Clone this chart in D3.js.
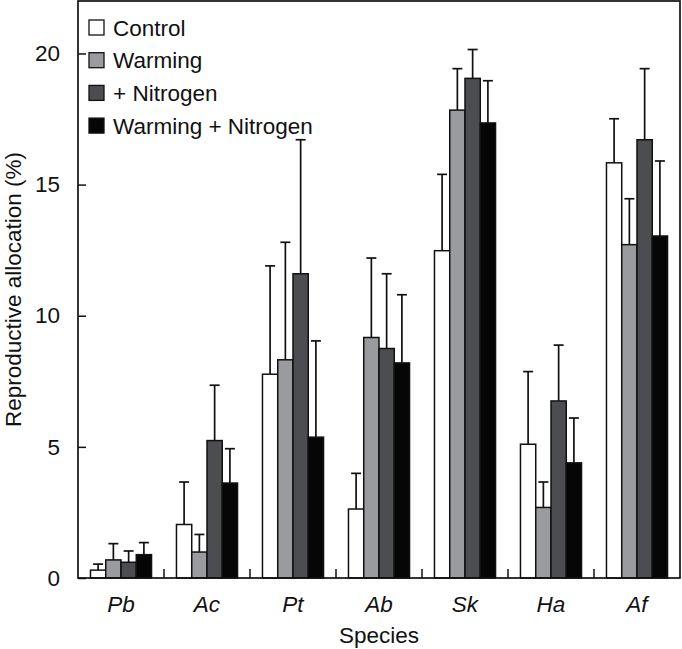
<!DOCTYPE html>
<html>
<head>
<meta charset="utf-8">
<script src="https://cdn.jsdelivr.net/npm/d3@7"></script>
<style>
body { margin: 0; background: #fff; }
text { font-family: "Liberation Sans", Arial, Helvetica, sans-serif; }
</style>
</head>
<body>
<div id="bar_chart"></div>
<script>
//data
var species = ["Pb", "Ac", "Pt", "Ab", "Sk", "Ha", "Af"];
var treatments = ["Control", "Warming", "+ Nitrogen", "Warming + Nitrogen"];
var colors = ["#ffffff", "#9a9b9e", "#4b4d51", "#060606"];
var yTicks = [0, 5, 10, 15, 20];

var control = [0.3, 2.04, 7.77, 2.63, 12.48, 5.1, 15.83];
var controlSE = [0.23, 1.62, 4.13, 1.36, 2.91, 2.77, 1.68];
var warming = [0.69, 0.99, 8.32, 9.17, 17.84, 2.69, 12.71];
var warmingSE = [0.62, 0.67, 4.48, 3.03, 1.58, 0.97, 1.75];
var nitrogen = [0.6, 5.24, 11.6, 8.75, 19.05, 6.75, 16.71];
var nitrogenSE = [0.43, 2.11, 5.11, 2.85, 1.1, 2.13, 2.71];
var warmNitro = [0.89, 3.62, 5.37, 8.2, 17.35, 4.39, 13.04];
var warmNitroSE = [0.46, 1.31, 3.67, 2.6, 1.61, 1.71, 2.86];

var means = [control, warming, nitrogen, warmNitro];
var errors = [controlSE, warmingSE, nitrogenSE, warmNitroSE];

//flat table of bars
var data = [];
species.forEach(function(s, i) {
  treatments.forEach(function(t, j) {
    data.push({species: s, treatment: t, value: means[j][i], se: errors[j][i], color: colors[j]});
  });
});

//setting dimensions and margins
var margin = {top: 1, right: 2, bottom: 71, left: 78},
width = 682 - margin.left - margin.right,
height = 649 - margin.top - margin.bottom;

var fs = 22.5;

var svg = d3.select("#bar_chart")
.append("svg")
.attr("width", width + margin.left + margin.right)
.attr("height", height + margin.top + margin.bottom)
.append("g")
.attr("transform", "translate(" + margin.left + "," + margin.top + ")");

//scales
var xScale = d3.scaleBand().domain(species).range([0, width]);
var bw = xScale.bandwidth();
var xInner = d3.scaleBand().domain(treatments).range([bw * 0.145, bw * 0.855]);
var yScale = d3.scaleLinear().domain([0, 22]).range([height, 0]);

//y axis, ticks pointing inward
var yAxis = svg.append("g")
  .call(d3.axisLeft(yScale).tickValues(yTicks).tickSize(-8).tickPadding(18).tickFormat(d3.format("d")));
yAxis.select(".domain").remove();
yAxis.selectAll(".tick line").attr("stroke", "#111").attr("stroke-width", 1.5);
yAxis.selectAll(".tick text").attr("font-size", fs).attr("fill", "#111");

//x axis labels
svg.append("g").selectAll(".xlab")
  .data(species)
  .enter().append("text")
  .attr("x", function(d) { return xScale(d) + bw / 2; })
  .attr("y", height + 34)
  .attr("text-anchor", "middle")
  .attr("font-size", fs)
  .attr("font-style", "italic")
  .attr("fill", "#111")
  .text(function(d) { return d; });

//small separator ticks between species
svg.append("g").selectAll(".sep")
  .data(species.slice(1))
  .enter().append("line")
  .attr("x1", function(d) { return xScale(d); })
  .attr("x2", function(d) { return xScale(d); })
  .attr("y1", height)
  .attr("y2", height - 9)
  .attr("stroke", "#111")
  .attr("stroke-width", 1.5);

//error bars (upper only)
var err = svg.append("g").selectAll(".err")
  .data(data)
  .enter().append("g")
  .attr("stroke", "#111")
  .attr("stroke-width", 1.7);
err.append("line")
  .attr("x1", function(d) { return xScale(d.species) + xInner(d.treatment) + xInner.bandwidth() / 2; })
  .attr("x2", function(d) { return xScale(d.species) + xInner(d.treatment) + xInner.bandwidth() / 2; })
  .attr("y1", function(d) { return yScale(d.value); })
  .attr("y2", function(d) { return yScale(d.value + d.se); });
err.append("line")
  .attr("x1", function(d) { return xScale(d.species) + xInner(d.treatment) + xInner.bandwidth() / 2 - 5; })
  .attr("x2", function(d) { return xScale(d.species) + xInner(d.treatment) + xInner.bandwidth() / 2 + 5; })
  .attr("y1", function(d) { return yScale(d.value + d.se); })
  .attr("y2", function(d) { return yScale(d.value + d.se); });

//adding bars
svg.selectAll(".bar")
  .data(data)
  .enter().append("rect")
  .attr("x", function(d) { return xScale(d.species) + xInner(d.treatment); })
  .attr("y", function(d) { return yScale(d.value); })
  .attr("width", xInner.bandwidth())
  .attr("height", function(d) { return height - yScale(d.value); })
  .style("fill", function(d) { return d.color; })
  .attr("stroke", "#111")
  .attr("stroke-width", 1.5);

//frame
svg.append("rect")
  .attr("x", 0)
  .attr("y", 0)
  .attr("width", width)
  .attr("height", height)
  .attr("fill", "none")
  .attr("stroke", "#111")
  .attr("stroke-width", 1.7);

//legend
var legend = svg.append("g").selectAll(".leg")
  .data(treatments)
  .enter().append("g")
  .attr("transform", function(d, i) { return "translate(11," + (19 + i * 32.7) + ")"; });
legend.append("rect")
  .attr("width", 15)
  .attr("height", 15)
  .style("fill", function(d, i) { return colors[i]; })
  .attr("stroke", "#111")
  .attr("stroke-width", 1.3);
legend.append("text")
  .attr("x", 24)
  .attr("y", 15.5)
  .attr("font-size", fs)
  .attr("fill", "#111")
  .text(function(d) { return d; });

//axis titles
svg.append("text")
  .attr("transform", "translate(" + (21 - margin.left) + "," + (height / 2) + ") rotate(-90)")
  .attr("text-anchor", "middle")
  .attr("font-size", fs)
  .attr("fill", "#111")
  .text("Reproductive allocation (%)");

svg.append("text")
  .attr("x", width / 2)
  .attr("y", height + 65)
  .attr("text-anchor", "middle")
  .attr("font-size", fs)
  .attr("fill", "#111")
  .text("Species");
</script>
</body>
</html>
